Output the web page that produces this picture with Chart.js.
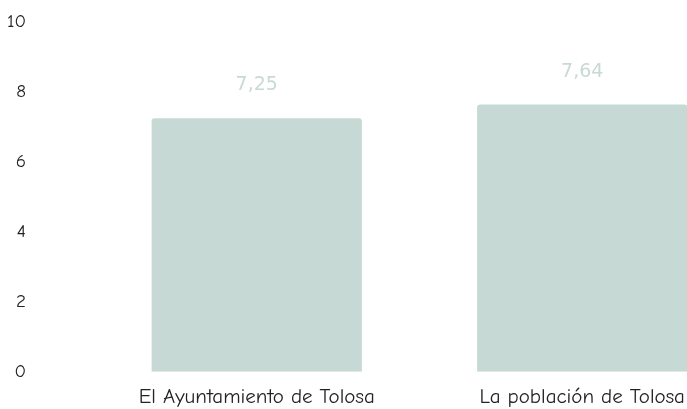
<!DOCTYPE html>
<html>
<head>
<meta charset="utf-8">
<script src="https://cdn.jsdelivr.net/npm/chart.js@4/dist/chart.umd.min.js"></script>
<style>
  html, body { margin: 0; padding: 0; overflow: hidden; background: #fff; }
  #wrap { width: 745px; height: 409px; }
</style>
</head>
<body>
<div id="wrap"><canvas id="chart"></canvas></div>
<script>
const categories = ['El Ayuntamiento de Tolosa', 'La población de Tolosa'];
const scores = [7.25, 7.64];
const yTicks = [0, 2, 4, 6, 8, 10];

const barColor = '#c7d9d4';
const axisFont = '"Comic Sans MS", "Comic Neue", "DejaVu Sans", sans-serif';

// value labels above each bar, comma decimal
const valueLabels = {
  id: 'valueLabels',
  afterDatasetsDraw(chart) {
    const ctx = chart.ctx;
    const meta = chart.getDatasetMeta(0);
    ctx.save();
    ctx.font = '19px "DejaVu Sans", sans-serif';
    ctx.fillStyle = '#c9d9d4';
    ctx.textAlign = 'center';
    ctx.textBaseline = 'middle';
    meta.data.forEach((bar, i) => {
      ctx.fillText(scores[i].toFixed(2).replace('.', ','), bar.x, bar.y - 33);
    });
    ctx.restore();
  },
};

new Chart(document.getElementById('chart'), {
  type: 'bar',
  data: {
    labels: categories,
    datasets: [{
      data: scores,
      backgroundColor: barColor,
      borderRadius: { topLeft: 3, topRight: 3 },
      borderSkipped: 'bottom',
      categoryPercentage: 1,
      barPercentage: 0.646,
    }],
  },
  options: {
    animation: false,
    responsive: true,
    maintainAspectRatio: false,
    layout: {
      padding: { left: 0, top: 22, bottom: -13, right: 0 },
    },
    scales: {
      x: {
        grid: { display: false, drawTicks: false },
        border: { display: false },
        ticks: {
          color: '#222',
          font: { family: axisFont, size: 21, lineHeight: 1.15 },
          padding: 13,
          maxRotation: 0,
        },
      },
      y: {
        min: 0,
        max: 10,
        afterFit: (scale) => {
          scale.width = 94;
          scale.paddingTop = 0;
          scale.paddingBottom = 0;
        },
        afterBuildTicks: (scale) => { scale.ticks = yTicks.map((v) => ({ value: v })); },
        grid: { display: false, drawTicks: false },
        border: { display: false },
        ticks: {
          color: '#222',
          font: { family: axisFont, size: 19 },
          padding: 68,
        },
      },
    },
    plugins: {
      legend: { display: false },
      tooltip: { enabled: false },
    },
  },
  plugins: [valueLabels],
});
</script>
</body>
</html>
